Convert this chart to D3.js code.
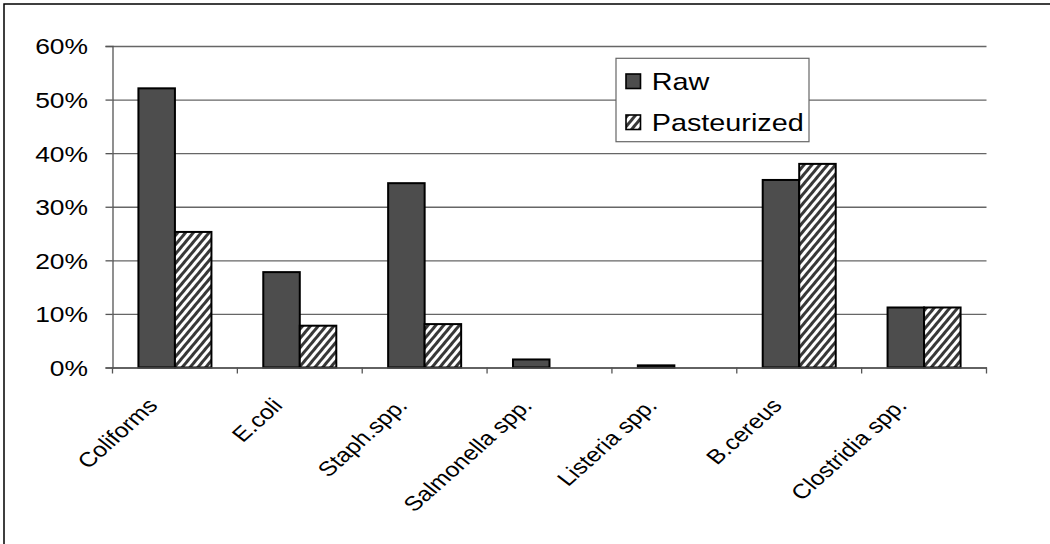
<!DOCTYPE html>
<html>
<head>
<meta charset="utf-8">
<script src="https://cdn.jsdelivr.net/npm/d3@7"></script>
<style>
  html, body { margin: 0; padding: 0; background: #fff; }
  svg { display: block; }
  text { font-family: "Liberation Sans", Arial, sans-serif; fill: #000; }
</style>
</head>
<body>
<svg id="chart" width="1050" height="544"></svg>
<script>
// Share of samples exceeding limits, raw vs pasteurized
const categories = ["Coliforms", "E.coli", "Staph.spp.", "Salmonella spp.", "Listeria spp.", "B.cereus", "Clostridia spp."];
const seriesNames = ["Raw", "Pasteurized"];
const rawValues = [0.521, 0.178, 0.344, 0.015, 0.004, 0.350, 0.112];
const pasteurizedValues = [0.253, 0.078, 0.081, 0, 0, 0.380, 0.112];
const yTicks = [0, 0.1, 0.2, 0.3, 0.4, 0.5, 0.6];

const W = 1050, H = 544;
const plot = { left: 112.5, right: 986.5, top: 46, bottom: 367.5 };
const SX = 1.2; // horizontal text stretch

const svg = d3.select("#chart");

// hatch for pasteurized bars
const defs = svg.append("defs");
const hatch = defs.append("pattern")
  .attr("id", "hatch")
  .attr("patternUnits", "userSpaceOnUse")
  .attr("width", 6).attr("height", 10)
  .attr("patternTransform", "rotate(40)");
hatch.append("rect").attr("width", 6).attr("height", 10).attr("fill", "#fff");
hatch.append("rect").attr("width", 3).attr("height", 10).attr("fill", "#383838");

// outer frame
svg.append("rect")
  .attr("x", 4).attr("y", 4).attr("width", W + 10).attr("height", H + 10)
  .attr("fill", "#fff").attr("stroke", "#000").attr("stroke-width", 1.5);

const x = d3.scaleBand().domain(categories).range([plot.left, plot.right]).padding(0);
const xs = d3.scaleBand().domain(seriesNames).range([0, x.bandwidth()]).paddingInner(0).paddingOuter(0.71);
const y = d3.scaleLinear().domain([0, 0.6]).range([plot.bottom, plot.top]);

// gridlines
svg.append("g")
  .attr("transform", `translate(${plot.left},0)`)
  .call(d3.axisLeft(y).tickValues(yTicks).tickSize(-(plot.right - plot.left)).tickFormat(""))
  .call(g => g.select(".domain").remove())
  .call(g => g.selectAll("line").attr("stroke", "#666").attr("stroke-width", 1.3));

// bars
const rows = categories.map((c, i) => ({ cat: c, vals: [rawValues[i], pasteurizedValues[i]] }));
const groups = svg.append("g").selectAll("g").data(rows).join("g")
  .attr("transform", d => `translate(${x(d.cat)},0)`);
groups.selectAll("rect")
  .data(d => d.vals.map((v, k) => ({ s: seriesNames[k], v })).filter(e => e.v > 0))
  .join("rect")
  .attr("x", d => xs(d.s))
  .attr("width", xs.bandwidth())
  .attr("y", d => y(d.v))
  .attr("height", d => y(0) - y(d.v))
  .attr("fill", d => d.s === "Raw" ? "#4d4d4d" : "url(#hatch)")
  .attr("stroke", "#000").attr("stroke-width", 2);

// y axis
const yAxis = svg.append("g")
  .attr("transform", `translate(${plot.left},0)`)
  .call(d3.axisLeft(y).tickValues(yTicks).tickSize(7).tickPadding(0).tickFormat(d3.format(".0%")));
yAxis.select(".domain").attr("stroke", "#555").attr("stroke-width", 1.3);
yAxis.selectAll(".tick line").attr("stroke", "#555").attr("stroke-width", 1.3);
yAxis.selectAll(".tick text")
  .attr("x", -24.5 / SX).attr("dy", "0.36em")
  .attr("transform", `scale(${SX},1)`)
  .style("font-size", "22px").style("font-family", "'Liberation Sans', Arial, sans-serif")
  .attr("fill", "#000");

// x axis baseline with ticks at category boundaries
const xAxis = svg.append("g")
  .attr("transform", `translate(0,${plot.bottom})`)
  .call(d3.axisBottom(x).tickSize(0).tickFormat(""));
xAxis.select(".domain").attr("stroke", "#555").attr("stroke-width", 1.3);
const bounds = categories.map(c => x(c)).concat([x(categories[categories.length - 1]) + x.step()]);
xAxis.selectAll("line.bound").data(bounds).join("line")
  .attr("class", "bound")
  .attr("x1", d => d).attr("x2", d => d).attr("y1", 0).attr("y2", 6)
  .attr("stroke", "#555").attr("stroke-width", 1.3);

// rotated category labels
svg.append("g").selectAll("text").data(categories).join("text")
  .attr("transform", d => `translate(${x(d) + x.bandwidth() / 2 - 16},${plot.bottom + 39}) scale(${SX},1) rotate(-47)`)
  .attr("text-anchor", "end")
  .style("font-size", "20.5px")
  .text(d => d);

// legend
const lg = svg.append("g");
lg.append("rect")
  .attr("x", 616).attr("y", 58.3).attr("width", 193).attr("height", 83.4)
  .attr("fill", "#fff").attr("stroke", "#666").attr("stroke-width", 1.2);
const items = lg.selectAll("g.item").data(seriesNames).join("g")
  .attr("class", "item")
  .attr("transform", (d, i) => `translate(626,${74 + i * 41})`);
items.append("rect")
  .attr("width", 14.5).attr("height", 14.5)
  .attr("fill", d => d === "Raw" ? "#4d4d4d" : "url(#hatch)")
  .attr("stroke", "#000").attr("stroke-width", 1.6);
items.append("text")
  .attr("transform", `translate(25.7,15.5) scale(${SX},1)`)
  .style("font-size", "24px")
  .text(d => d);
</script>
</body>
</html>
